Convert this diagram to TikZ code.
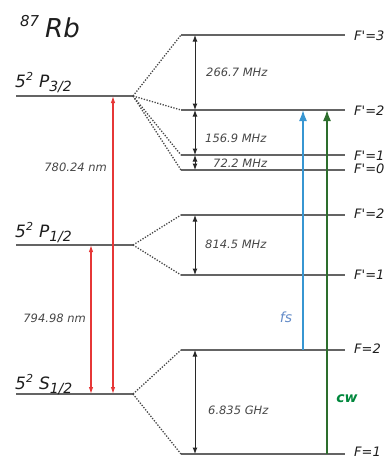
\documentclass[tikz,border=0pt]{standalone}
\usepackage{fontspec}
\setmainfont{DejaVu Sans}
\usetikzlibrary{arrows.meta}
\definecolor{lvl}{RGB}{100,100,100}
\definecolor{dotc}{RGB}{70,70,70}
\definecolor{gapc}{RGB}{40,40,40}
\definecolor{redarr}{RGB}{230,55,55}
\definecolor{bluearr}{RGB}{55,150,210}
\definecolor{greenarr}{RGB}{45,110,45}
\definecolor{fslab}{RGB}{100,140,200}
\definecolor{cwlab}{RGB}{0,135,60}
\definecolor{txtgray}{RGB}{70,70,70}
\definecolor{txtdark}{RGB}{30,30,30}
\newcommand{\statelbl}[2]{5\raisebox{6.5pt}{\fontsize{11}{11}\selectfont 2}\hspace{6pt}#1\raisebox{-4pt}{\fontsize{14}{14}\selectfont #2}}
\begin{document}
\begin{tikzpicture}[x=1pt,y=-1pt,
  level/.style={draw=lvl, line width=1.3pt},
  split/.style={draw=dotc, line width=1.3pt, dash pattern=on 1.3pt off 1.5pt},
  gap/.style={draw=gapc, line width=1pt, {Latex[length=6.5pt,width=5pt]}-{Latex[length=6.5pt,width=5pt]}},
  redgap/.style={draw=redarr, line width=1.1pt, {Latex[length=7pt,width=4.5pt]}-{Latex[length=7pt,width=4.5pt]}},
  pump/.style={line width=1.6pt},
  flabel/.style={anchor=west, text=txtdark, font=\itshape\fontsize{13}{13}\selectfont, inner sep=0pt},
  glabel/.style={anchor=west, text=txtgray, font=\itshape\fontsize{11.5}{11.5}\selectfont, inner sep=0pt},
  slabel/.style={anchor=base west, text=txtdark, font=\itshape\fontsize{17}{17}\selectfont, inner sep=0pt}
]
\useasboundingbox (0,0) rectangle (387,461);

% left fine-structure levels
\coordinate (P3L) at (16,96);  \coordinate (P3R) at (133,96);
\coordinate (P1L) at (16,245); \coordinate (P1R) at (133,245);
\coordinate (SL)  at (16,394); \coordinate (SR)  at (133,394);
% right hyperfine levels
\coordinate (F3L) at (181,35);  \coordinate (F3R) at (345,35);
\coordinate (F2L) at (181,110); \coordinate (F2R) at (345,110);
\coordinate (F1L) at (181,155); \coordinate (F1R) at (345,155);
\coordinate (F0L) at (181,170); \coordinate (F0R) at (345,170);
\coordinate (G2L) at (181,215); \coordinate (G2R) at (345,215);
\coordinate (G1L) at (181,275); \coordinate (G1R) at (345,275);
\coordinate (H2L) at (181,350); \coordinate (H2R) at (345,350);
\coordinate (H1L) at (181,454); \coordinate (H1R) at (345,454);
% arrow columns
\coordinate (ax) at (195,0);
\coordinate (r1) at (113,0);
\coordinate (r2) at (91,0);
\coordinate (bx) at (303,0);
\coordinate (gx) at (327,0);

% title
\node[anchor=base west, inner sep=0pt, text=txtdark, font=\itshape\fontsize{15}{15}\selectfont] (iso) at (20,26) {87};
\node[anchor=base west, inner sep=0pt, text=txtdark, font=\itshape\fontsize{26}{26}\selectfont] (rb) at (45,37) {Rb};

% level lines
\foreach \a/\b in {P3L/P3R,P1L/P1R,SL/SR,F3L/F3R,F2L/F2R,F1L/F1R,F0L/F0R,G2L/G2R,G1L/G1R,H2L/H2R,H1L/H1R}
  \draw[level] (\a) -- (\b);

% dotted splittings
\foreach \t in {F3L,F2L,F1L,F0L} \draw[split] (P3R) -- (\t);
\foreach \t in {G2L,G1L} \draw[split] (P1R) -- (\t);
\foreach \t in {H2L,H1L} \draw[split] (SR) -- (\t);

% state labels
\node[slabel] (lp3) at (15,87) {\statelbl{P}{3/2}};
\node[slabel] (lp1) at (15,237) {\statelbl{P}{1/2}};
\node[slabel] (ls)  at (15,389) {\statelbl{S}{1/2}};

% F labels
\node[flabel] (f3)  at (354,36)  {F\textquotesingle=3};
\node[flabel] (f2)  at (354,111) {F\textquotesingle=2};
\node[flabel] (f1)  at (354,156) {F\textquotesingle=1};
\node[flabel] (f0)  at (354,169) {F\textquotesingle=0};
\node[flabel] (g2)  at (354,214) {F\textquotesingle=2};
\node[flabel] (g1)  at (354,275) {F\textquotesingle=1};
\node[flabel] (h2)  at (354,349) {F=2};
\node[flabel] (h1)  at (354,452) {F=1};

% splitting arrows
\draw[gap] (ax |- F3L) -- (ax |- F2L);
\draw[gap] (ax |- F2L) -- (ax |- F1L);
\draw[gap] (ax |- F1L) -- (ax |- F0L);
\draw[gap] (ax |- G2L) -- (ax |- G1L);
\draw[gap] (ax |- H2L) -- (ax |- H1L);

\node[glabel] (m1) at (206,72)  {266.7 MHz};
\node[glabel] (m2) at (205,138) {156.9 MHz};
\node[glabel] (m3) at (213,163) {72.2 MHz};
\node[glabel] (m4) at (205,244) {814.5 MHz};
\node[glabel] (m5) at (208,410) {6.835 GHz};

% optical transitions
\draw[redgap] (r1 |- SL) -- (r1 |- P3L);
\draw[redgap] (r2 |- SL) -- (r2 |- P1L);
\node[glabel, anchor=east] (d2) at (107,167) {780.24 nm};
\node[glabel, anchor=east] (d1) at (86,318) {794.98 nm};

% pump / probe lasers
\draw[pump, draw=bluearr, -{Latex[length=11pt,width=8pt,fill=bluearr]}] (bx |- H2L) -- (bx |- F2L);
\draw[pump, draw=greenarr, -{Latex[length=11pt,width=8pt,fill=greenarr]}] (gx |- H1L) -- (gx |- F2L);
\node[inner sep=0pt, text=fslab, font=\itshape\fontsize{14}{14}\selectfont] (fs) at (286,317) {fs};
\node[inner sep=0pt, text=cwlab, font=\bfseries\itshape\fontsize{14}{14}\selectfont] (cw) at (347,399) {cw};
\end{tikzpicture}
\end{document}
